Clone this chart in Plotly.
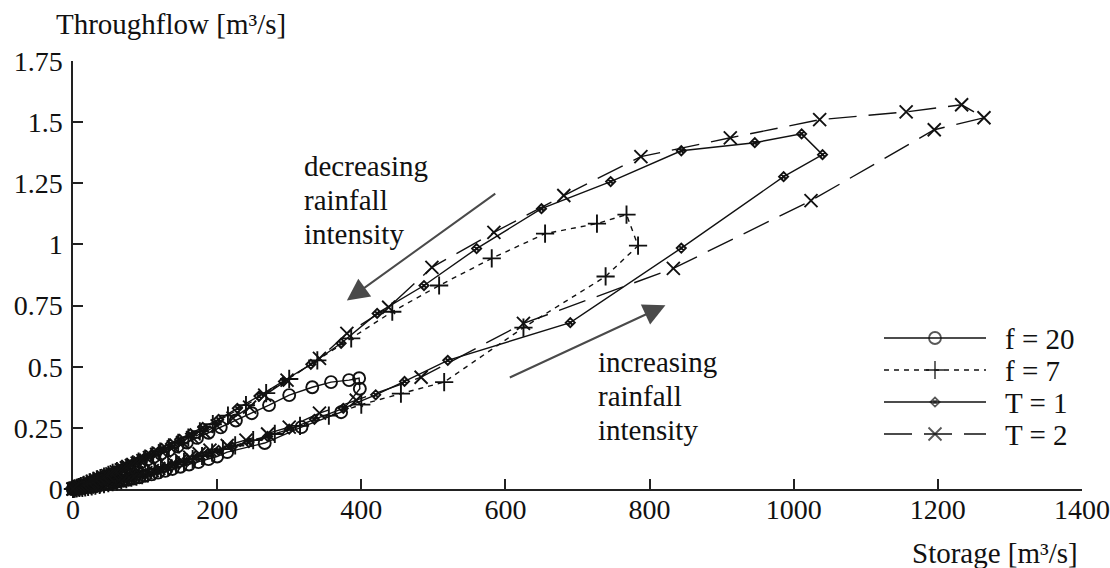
import plotly.graph_objects as go

# ---------------- data: storage [m3/s] vs throughflow [m3/s] ----------------
# each run is split into its rising limb (increasing rainfall) and falling limb

F20_RISE_S = [0, 3, 7, 11, 15, 19, 24, 29, 34, 39, 45, 51, 57, 63, 70, 77, 84, 92, 100, 109,
              118, 128, 138, 149, 161, 174, 188, 200, 214, 266, 317, 372, 398, 397]
F20_RISE_Q = [0.0, 0.001, 0.003, 0.004, 0.006, 0.008, 0.01, 0.012, 0.014, 0.017, 0.02, 0.023, 0.026, 0.03,
              0.034, 0.038, 0.043, 0.048, 0.054, 0.06, 0.067, 0.074, 0.082, 0.091, 0.1, 0.11, 0.122, 0.133,
              0.151, 0.188, 0.253, 0.314, 0.41, 0.453]
F20_FALL_S = [383, 358, 332, 300, 272, 248, 226, 205, 188, 172, 158, 145, 133, 122, 112, 103, 94, 86, 78, 71,
              64, 58, 52, 46, 41, 36, 31, 26, 22, 18, 14, 10, 7, 4, 2, 0]
F20_FALL_Q = [0.445, 0.437, 0.416, 0.384, 0.343, 0.31, 0.28, 0.252, 0.23, 0.209, 0.19, 0.174, 0.158, 0.144,
              0.131, 0.12, 0.109, 0.099, 0.089, 0.08, 0.072, 0.065, 0.058, 0.051, 0.045, 0.04, 0.034, 0.028,
              0.024, 0.019, 0.015, 0.011, 0.007, 0.004, 0.002, 0.0]

F7_RISE_S = [0, 2, 5, 9, 13, 17, 21, 26, 31, 37, 43, 49, 55, 61, 67, 74, 81, 88, 96, 104,
             113, 122, 132, 143, 154, 166, 179, 193, 208, 225, 250, 280, 315, 355, 400, 455, 515, 625, 739, 784]
F7_RISE_Q = [0.0, 0.001, 0.002, 0.004, 0.005, 0.007, 0.009, 0.011, 0.014, 0.017, 0.02, 0.024, 0.028, 0.031,
             0.035, 0.04, 0.046, 0.051, 0.057, 0.064, 0.072, 0.08, 0.089, 0.1, 0.11, 0.122, 0.135, 0.149, 0.163,
             0.178, 0.2, 0.225, 0.258, 0.3, 0.345, 0.39, 0.437, 0.66, 0.869, 0.995]
F7_FALL_S = [768, 727, 655, 581, 508, 443, 386, 339, 300, 268, 240, 215, 194, 176, 160, 146, 133, 121, 110, 100,
             91, 83, 75, 68, 61, 55, 49, 43, 38, 33, 28, 23, 19, 15, 11, 8, 5, 2, 0]
F7_FALL_Q = [1.122, 1.085, 1.044, 0.943, 0.832, 0.725, 0.616, 0.526, 0.45, 0.392, 0.343, 0.3, 0.265, 0.236,
             0.21, 0.189, 0.17, 0.153, 0.138, 0.124, 0.112, 0.101, 0.091, 0.082, 0.073, 0.066, 0.058, 0.051,
             0.045, 0.039, 0.033, 0.027, 0.022, 0.017, 0.012, 0.008, 0.005, 0.002, 0.0]

T1_RISE_S = [0, 3, 6, 10, 14, 18, 23, 28, 33, 38, 44, 50, 56, 62, 69, 76, 83, 91, 99, 108,
             117, 127, 137, 148, 160, 173, 187, 202, 221, 244, 270, 300, 335, 375, 420, 460, 520, 690, 844, 986,
             1040]
T1_RISE_Q = [0.0, 0.001, 0.002, 0.004, 0.006, 0.007, 0.01, 0.012, 0.015, 0.017, 0.021, 0.024, 0.028, 0.032,
             0.037, 0.042, 0.048, 0.054, 0.06, 0.068, 0.076, 0.085, 0.094, 0.105, 0.117, 0.13, 0.145, 0.158,
             0.172, 0.19, 0.215, 0.245, 0.285, 0.33, 0.385, 0.44, 0.526, 0.68, 0.985, 1.277, 1.367]
T1_FALL_S = [1011, 946, 844, 746, 650, 560, 487, 422, 372, 330, 292, 258, 228, 202, 180, 163, 148, 135, 123, 112,
             102, 93, 85, 77, 70, 63, 57, 51, 45, 40, 35, 30, 25, 21, 17, 13, 9, 6, 3, 0]
T1_FALL_Q = [1.452, 1.416, 1.383, 1.257, 1.146, 0.983, 0.832, 0.718, 0.596, 0.51, 0.44, 0.38, 0.33, 0.285,
             0.252, 0.226, 0.203, 0.184, 0.166, 0.15, 0.136, 0.123, 0.112, 0.101, 0.092, 0.082, 0.074, 0.066,
             0.058, 0.051, 0.045, 0.038, 0.031, 0.026, 0.021, 0.016, 0.011, 0.007, 0.003, 0.0]

T2_RISE_S = [0, 4, 8, 12, 16, 20, 25, 30, 35, 40, 46, 52, 58, 64, 71, 78, 85, 93, 101, 110,
             119, 129, 139, 150, 162, 175, 190, 214, 240, 270, 300, 342, 393, 483, 625, 833, 1024, 1195, 1264]
T2_RISE_Q = [0.0, 0.002, 0.003, 0.005, 0.007, 0.008, 0.011, 0.013, 0.016, 0.019, 0.023, 0.026, 0.031, 0.035,
             0.041, 0.046, 0.052, 0.059, 0.067, 0.075, 0.084, 0.094, 0.107, 0.118, 0.13, 0.144, 0.159, 0.178,
             0.2, 0.225, 0.253, 0.31, 0.363, 0.457, 0.677, 0.902, 1.179, 1.469, 1.518]
T2_FALL_S = [1233, 1156, 1036, 912, 788, 681, 584, 498, 438, 380, 342, 297, 266, 245, 222, 200, 182, 166, 152,
             139, 127, 116, 106, 97, 89, 81, 74, 67, 60, 54, 48, 42, 37, 32, 27, 22, 18, 14, 10, 7, 4, 2, 0]
T2_FALL_Q = [1.571, 1.542, 1.51, 1.436, 1.359, 1.2, 1.049, 0.906, 0.743, 0.636, 0.534, 0.445, 0.384, 0.335,
             0.29, 0.258, 0.232, 0.21, 0.19, 0.172, 0.156, 0.141, 0.128, 0.116, 0.106, 0.096, 0.087, 0.078,
             0.07, 0.062, 0.055, 0.048, 0.042, 0.036, 0.03, 0.024, 0.019, 0.015, 0.011, 0.007, 0.004, 0.002,
             0.0]

SERIES_NAMES = ["f = 20", "f = 7", "T = 1", "T = 2"]

X_TICKS = [0, 200, 400, 600, 800, 1000, 1200, 1400]
Y_TICKS = [0, 0.25, 0.5, 0.75, 1, 1.25, 1.5, 1.75]
Y_TICK_TEXT = ["0", "0.25", "0.5", "0.75", "1", "1.25", "1.5", "1.75"]

# ---------------- styling ----------------
FONT = "Liberation Serif"
FS = 29
FS_TICK = 28
INK = "#111111"

STYLES = {
    "f = 20": dict(symbol="circle-open", size=12, dash="solid"),
    "f = 7": dict(symbol="cross-thin-open", size=13, dash="5px,5px"),
    "T = 1": dict(symbol="diamond-x-open", size=7, dash="solid"),
    "T = 2": dict(symbol="x-thin-open", size=13, dash="28px,12px"),
}

RUNS = {
    "f = 20": (F20_RISE_S + F20_FALL_S, F20_RISE_Q + F20_FALL_Q),
    "f = 7": (F7_RISE_S + F7_FALL_S, F7_RISE_Q + F7_FALL_Q),
    "T = 1": (T1_RISE_S + T1_FALL_S, T1_RISE_Q + T1_FALL_Q),
    "T = 2": (T2_RISE_S + T2_FALL_S, T2_RISE_Q + T2_FALL_Q),
}

W, H = 1110, 568
ML, MR, MT, MB = 73, 28, 61, 79
PW, PH = W - ML - MR, H - MT - MB


def paper(xp, yp):
    """pixel position on the page -> paper coordinates"""
    return (xp - ML) / PW, (H - MB - yp) / PH


fig = go.Figure()

for name in SERIES_NAMES:
    s, q = RUNS[name]
    st = STYLES[name]
    fig.add_trace(go.Scatter(
        x=s, y=q, mode="lines+markers", name=name, showlegend=False, cliponaxis=False,
        line=dict(color=INK, width=1.4, dash=st["dash"]),
        marker=dict(symbol=st["symbol"], size=st["size"], color=INK,
                    line=dict(color=INK, width=1.9)),
    ))

# ---------------- hand-drawn legend (pixel overlay axes) ----------------
LEG_X0, LEG_X1 = 884, 986
LEG_ROW0, LEG_STEP = 338, 32
LEG_TEXT_X = 1003
for i, name in enumerate(SERIES_NAMES):
    st = STYLES[name]
    yrow = LEG_ROW0 + i * LEG_STEP
    mid = (LEG_X0 + LEG_X1) / 2
    fig.add_trace(go.Scatter(
        x=[LEG_X0, mid, LEG_X1], y=[yrow, yrow, yrow], xaxis="x2", yaxis="y2",
        mode="lines+markers", showlegend=False, cliponaxis=False,
        line=dict(color=INK, width=1.4, dash=st["dash"]),
        marker=dict(symbol=st["symbol"], size=[0, st["size"], 0], color=INK,
                    line=dict(color=INK, width=1.8)),
    ))

annotations = []
for i, name in enumerate(SERIES_NAMES):
    px_, py_ = paper(LEG_TEXT_X, LEG_ROW0 + i * LEG_STEP + 1)
    annotations.append(dict(x=px_, y=py_, xref="paper", yref="paper", text=name, showarrow=False,
                            xanchor="left", yanchor="middle", font=dict(family=FONT, size=FS, color=INK)))

# axis titles
tx, ty = paper(54, 24)
annotations.append(dict(x=tx, y=ty, xref="paper", yref="paper", text="Throughflow [m³/s]", showarrow=False,
                        xanchor="left", yanchor="middle", font=dict(family=FONT, size=FS, color=INK)))
tx, ty = paper(1080, 553)
annotations.append(dict(x=tx, y=ty, xref="paper", yref="paper", text="Storage [m³/s]", showarrow=False,
                        xanchor="right", yanchor="middle", font=dict(family=FONT, size=FS, color=INK)))

# rainfall notes
for lines, x0, y0 in ((["decreasing", "rainfall", "intensity"], 302, 166),
                      (["increasing", "rainfall", "intensity"], 596, 362)):
    for k, word in enumerate(lines):
        tx, ty = paper(x0, y0 + 34 * k)
        annotations.append(dict(x=tx, y=ty, xref="paper", yref="paper", text=word, showarrow=False,
                                xanchor="left", yanchor="middle", font=dict(family=FONT, size=FS, color=INK)))

# direction arrows (data coordinates: tail -> head)
for (x_tail, y_tail, x_head, y_head) in ((588, 1.212, 380, 0.771), (604, 0.453, 822, 0.751)):
    annotations.append(dict(x=x_head, y=y_head, ax=x_tail, ay=y_tail, xref="x", yref="y", axref="x", ayref="y",
                            text="", showarrow=True, arrowhead=2, arrowsize=2.2, arrowwidth=2,
                            arrowcolor="#4a4a4a"))

axis_common = dict(showline=True, linecolor="#222222", linewidth=1.5, ticks="inside", ticklen=10,
                   tickwidth=1.5, tickcolor="#222222", showgrid=False, zeroline=False, automargin=False,
                   tickfont=dict(family=FONT, size=FS_TICK, color=INK), layer="below traces")

fig.update_layout(
    width=W, height=H, margin=dict(l=ML, r=MR, t=MT, b=MB, autoexpand=False),
    paper_bgcolor="white", plot_bgcolor="white", showlegend=False,
    xaxis=dict(range=[0, 1400], tickvals=X_TICKS, ticklabelstandoff=-5, **axis_common),
    yaxis=dict(range=[0, 1.75], tickvals=Y_TICKS, ticktext=Y_TICK_TEXT, ticklabelstandoff=3, **axis_common),
    xaxis2=dict(overlaying="x", range=[ML, W - MR], visible=False),
    yaxis2=dict(overlaying="y", range=[H - MB, MT], visible=False),
    annotations=annotations,
)

fig.write_html("out.html")
